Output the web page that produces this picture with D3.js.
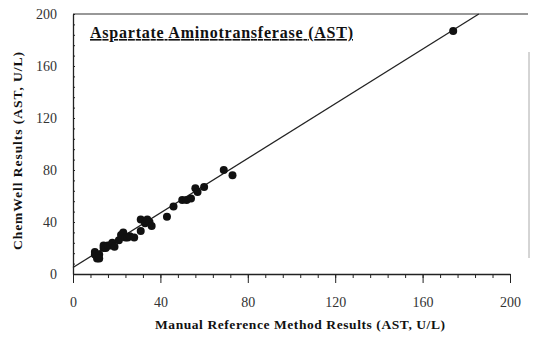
<!DOCTYPE html>
<html lang="en">
<head>
    <meta charset="UTF-8">
    <script src="https://cdn.jsdelivr.net/npm/d3@7"></script>
    <title>AST method comparison</title>
    <style>
        body { margin: 0; background: white; }
        text { font-family: "Liberation Serif", "Times New Roman", serif; }
        .domain { stroke: #222; }
        .tick line { stroke: #222; }
    </style>
</head>
<body>
    <div class="fig"></div>
    <script>
        // manual reference results (x) and ChemWell results (y), U/L
        const manualAST = [10, 11, 10, 12, 12, 14, 14, 15, 16, 17, 18, 19, 21, 22, 23, 24, 25, 26, 28,
            31, 31, 33, 34, 35, 36, 43, 46, 50, 52, 54, 56, 57, 60, 69, 73, 174];
        const chemWellAST = [17, 12, 15, 15, 12, 20, 22, 20, 22, 22, 24, 21, 26, 30, 32, 28, 28, 29, 28,
            33, 42, 39, 42, 40, 37, 44, 52, 57, 57, 58, 66, 63, 67, 80, 76, 187];
        // regression line
        const fitSlope = 1.05;
        const fitIntercept = 5;

        const majorTicks = [0, 40, 80, 120, 160, 200];
        const minorTicks = d3.range(0, 201, 8);
        const title = "Aspartate Aminotransferase (AST)";
        const xTitle = "Manual Reference Method Results (AST, U/L)";
        const yTitle = "ChemWell Results (AST, U/L)";

        const width = 543, height = 340;
        const svg = d3.select(".fig").append("svg")
            .attr("width", width)
            .attr("height", height);

        const x = d3.scaleLinear().domain([0, 200]).range([73, 510]);
        const y = d3.scaleLinear().domain([0, 200]).range([274, 14]);

        // frame remnants: top line and faint right edge
        svg.append("line")
            .attr("x1", x(0)).attr("x2", 528)
            .attr("y1", y(200)).attr("y2", y(200))
            .attr("stroke", "#333").attr("stroke-width", 1.2);
        svg.append("line")
            .attr("x1", 529).attr("x2", 529)
            .attr("y1", 52).attr("y2", 258)
            .attr("stroke", "#aaa").attr("stroke-width", 1);

        // x axis
        const xMinor = svg.append("g")
            .attr("transform", `translate(0,${y(0)})`)
            .call(d3.axisBottom(x).tickValues(minorTicks).tickSize(4).tickSizeOuter(0).tickFormat(""));
        xMinor.select(".domain").remove();

        const xAxis = svg.append("g")
            .attr("transform", `translate(0,${y(0)})`)
            .call(d3.axisBottom(x).tickValues(majorTicks).tickSize(9).tickSizeOuter(0).tickPadding(14));
        xAxis.select(".domain").attr("stroke-width", 1.3);
        xAxis.selectAll("text")
            .attr("font-size", 14)
            .attr("fill", "#333");

        // y axis
        const yMinor = svg.append("g")
            .attr("transform", `translate(${x(0)},0)`)
            .call(d3.axisLeft(y).tickValues(minorTicks).tickSize(3).tickSizeOuter(0).tickFormat(""));
        yMinor.select(".domain").remove();
        yMinor.selectAll(".tick line").attr("x2", 2);

        const yAxis = svg.append("g")
            .attr("transform", `translate(${x(0)},0)`)
            .call(d3.axisLeft(y).tickValues(majorTicks).tickSize(7).tickSizeOuter(0).tickPadding(9));
        yAxis.select(".domain").attr("stroke-width", 1.3);
        yAxis.selectAll(".tick line").attr("x2", 2);
        yAxis.selectAll("text")
            .attr("font-size", 14)
            .attr("fill", "#333");

        // regression line, clipped at the top of the plot
        const xEnd = (200 - fitIntercept) / fitSlope;
        svg.append("line")
            .attr("x1", x(0)).attr("y1", y(fitIntercept))
            .attr("x2", x(xEnd)).attr("y2", y(200))
            .attr("stroke", "#222").attr("stroke-width", 1.3);

        // points
        svg.selectAll("circle")
            .data(manualAST.map((d, i) => [d, chemWellAST[i]]))
            .enter()
            .append("circle")
            .attr("cx", d => x(d[0]))
            .attr("cy", d => y(d[1]))
            .attr("r", 4)
            .attr("fill", "#111");

        // titles
        svg.append("text")
            .attr("x", 90).attr("y", 38)
            .attr("font-size", 16)
            .attr("font-weight", "bold")
            .attr("text-decoration", "underline")
            .attr("textLength", 263)
            .attr("lengthAdjust", "spacing")
            .attr("fill", "#111")
            .text(title);

        svg.append("text")
            .attr("x", 155).attr("y", 329)
            .attr("font-size", 13.5)
            .attr("font-weight", "bold")
            .attr("textLength", 290)
            .attr("lengthAdjust", "spacing")
            .attr("fill", "#111")
            .text(xTitle);

        svg.append("text")
            .attr("transform", "translate(22,250) rotate(-90)")
            .attr("font-size", 13.5)
            .attr("font-weight", "bold")
            .attr("textLength", 198)
            .attr("lengthAdjust", "spacing")
            .attr("fill", "#111")
            .text(yTitle);
    </script>
</body>
</html>
